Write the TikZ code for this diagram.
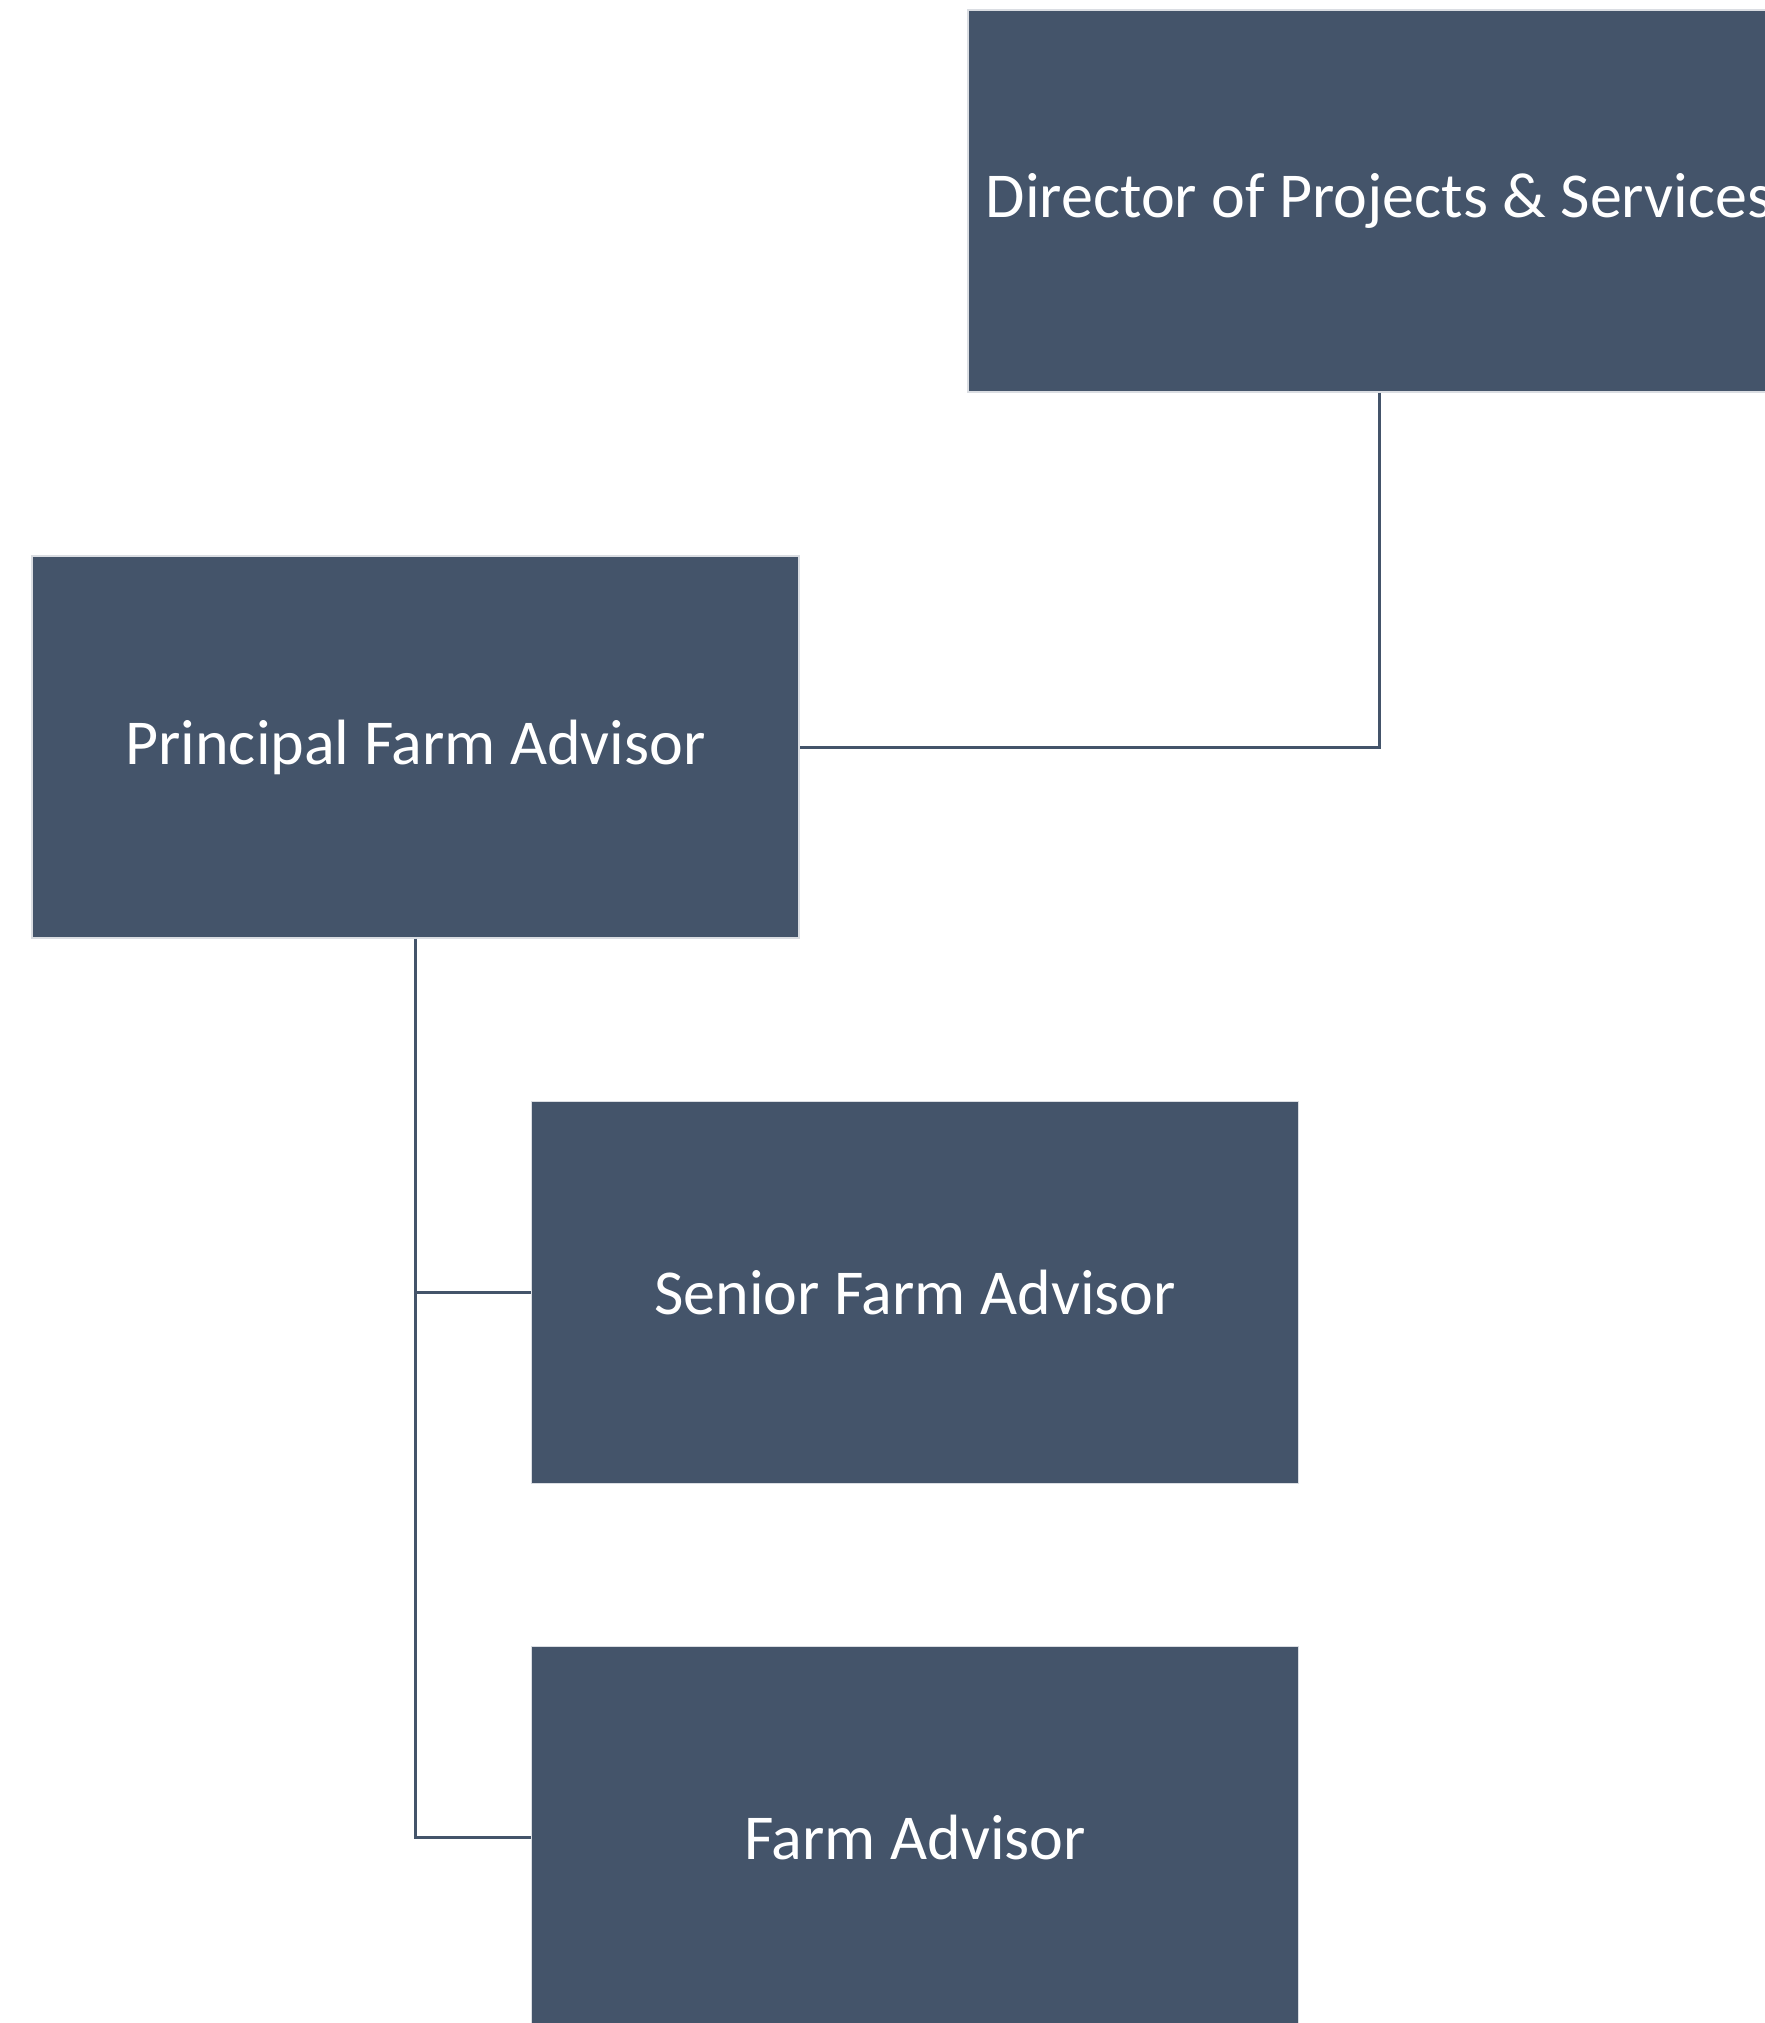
\documentclass[tikz,border=0pt]{standalone}
\usepackage{fontspec}
\setmainfont{Carlito}
\definecolor{boxfill}{HTML}{44546A}
\definecolor{boxedge}{HTML}{DADDE2}
\begin{document}
\begin{tikzpicture}[x=1pt,y=-1pt,
  role/.style={rectangle, fill=boxfill, draw=boxedge, line width=1.5pt,
    minimum width=767pt, minimum height=382pt, inner sep=0pt, text=white,
    font=\fontsize{64}{76}\selectfont},
  link/.style={draw=boxfill, line width=3pt}]
\useasboundingbox[fill=white] (0,0) rectangle (1764,2023);
\node[role, minimum width=822pt] (dir) at (1379,201) {\raisebox{-3pt}{Director of Projects \& Services}};
\node[role] (pfa) at (415.5,747) {\raisebox{-3pt}{Principal Farm Advisor}};
\node[role] (sfa) at (915,1292.5) {Senior Farm Advisor};
\node[role] (fa) at (915,1837.5) {Farm Advisor};
\draw[link] (dir.south) |- (pfa.east);
\draw[link] (pfa.south) |- (sfa.west);
\draw[link] (pfa.south) |- (fa.west);
\end{tikzpicture}
\end{document}
